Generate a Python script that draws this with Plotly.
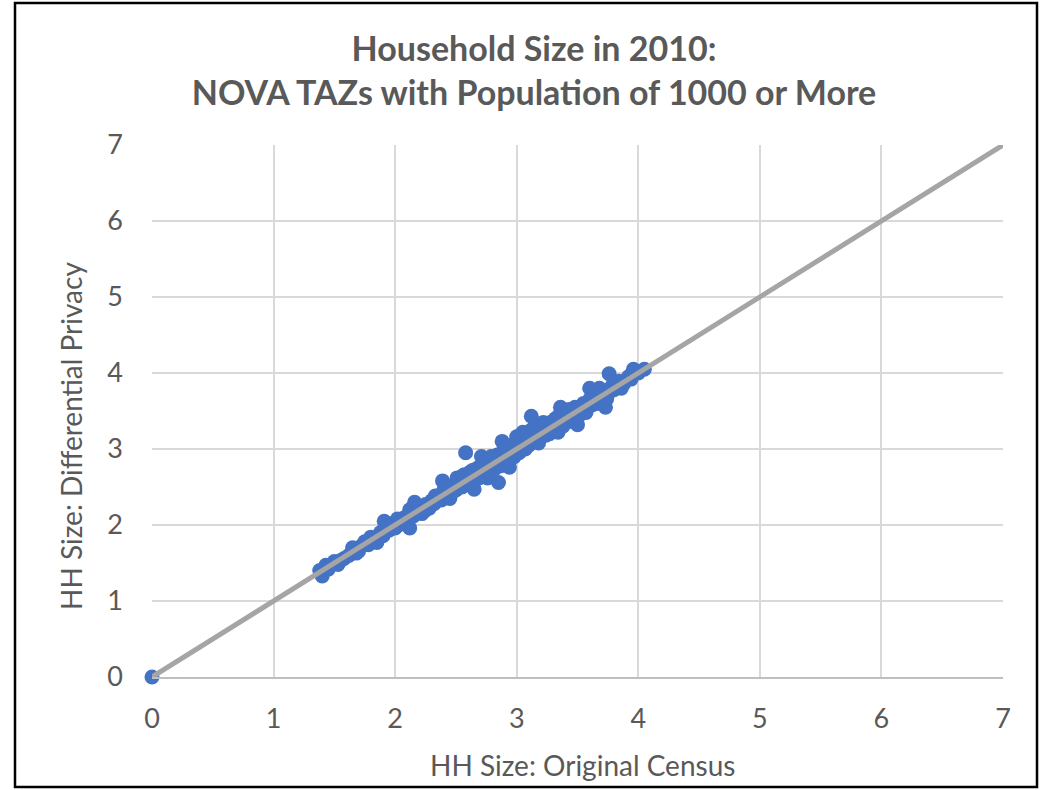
import plotly.graph_objects as go

census = [0.00, 1.38, 1.40, 1.45, 1.50, 1.53, 1.58, 1.62, 1.65, 1.68, 1.72, 1.75, 1.78, 1.82, 1.85,
          1.88, 1.90, 1.91, 1.95, 1.98, 2.00, 2.02, 2.05, 2.08, 2.10, 2.12, 2.12, 2.15, 2.16,
          2.18, 2.20, 2.22, 2.25, 2.28, 2.30, 2.32, 2.35, 2.38, 2.39, 2.40, 2.42, 2.44, 2.45,
          2.48, 2.50, 2.52, 2.53, 2.55, 2.56, 2.58, 2.58, 2.60, 2.62, 2.63, 2.65, 2.66, 2.68,
          2.70, 2.71, 2.72, 2.74, 2.75, 2.76, 2.78, 2.80, 2.82, 2.84, 2.85, 2.86, 2.88, 2.88,
          2.90, 2.92, 2.94, 2.95, 2.97, 2.98, 3.00, 3.00, 3.02, 3.04, 3.05, 3.06, 3.08, 3.10,
          3.12, 3.12, 3.14, 3.15, 3.17, 3.18, 3.20, 3.22, 3.24, 3.25, 3.27, 3.28, 3.30, 3.32,
          3.34, 3.36, 3.36, 3.38, 3.40, 3.42, 3.44, 3.46, 3.48, 3.50, 3.50, 3.52, 3.55, 3.56,
          3.58, 3.60, 3.60, 3.62, 3.65, 3.66, 3.68, 3.70, 3.72, 3.73, 3.75, 3.76, 3.78, 3.80,
          3.84, 3.88, 3.92, 3.96, 4.00, 4.05,
          1.43, 1.55, 1.70, 1.80, 1.93, 2.03, 2.14, 2.24, 2.33, 2.41, 2.47, 2.51, 2.57, 2.61,
          2.64, 2.69, 2.73, 2.77, 2.79, 2.83, 2.87, 2.91, 2.93, 2.96, 2.99, 3.03, 3.07, 3.09,
          3.11, 3.16, 3.19, 3.23, 3.26, 3.29, 3.31, 3.35, 3.39, 3.43, 3.47, 3.53, 3.57, 3.63,
          3.67, 3.71, 3.74, 3.82, 3.86, 3.94]
dp = [0.00, 1.40, 1.33, 1.42, 1.52, 1.48, 1.56, 1.60, 1.70, 1.63, 1.72, 1.78, 1.74, 1.82, 1.77,
      1.90, 1.86, 2.05, 1.93, 2.02, 1.96, 2.08, 2.03, 2.10, 2.05, 1.96, 2.20, 2.12, 2.30,
      2.17, 2.24, 2.15, 2.27, 2.22, 2.32, 2.28, 2.38, 2.33, 2.58, 2.45, 2.40, 2.50, 2.35,
      2.52, 2.46, 2.60, 2.55, 2.50, 2.65, 2.95, 2.58, 2.54, 2.70, 2.62, 2.47, 2.68, 2.75,
      2.64, 2.90, 2.80, 2.70, 2.85, 2.62, 2.78, 2.88, 2.74, 2.92, 2.56, 2.82, 3.10, 2.95,
      2.86, 3.00, 2.76, 2.92, 3.05, 2.90, 3.16, 3.00, 2.95, 3.10, 3.22, 3.02, 3.15, 3.05,
      3.43, 3.25, 3.10, 3.30, 3.18, 3.08, 3.22, 3.35, 3.18, 3.28, 3.20, 3.32, 3.26, 3.40,
      3.22, 3.55, 3.38, 3.30, 3.45, 3.36, 3.48, 3.40, 3.55, 3.32, 3.50, 3.45, 3.60, 3.50,
      3.55, 3.80, 3.65, 3.58, 3.70, 3.60, 3.80, 3.66, 3.75, 3.55, 3.72, 3.99, 3.82, 3.78,
      3.89, 3.86, 3.95, 4.05, 4.00, 4.05,
      1.47, 1.53, 1.66, 1.84, 1.98, 2.00, 2.21, 2.18, 2.38, 2.50, 2.43, 2.62, 2.66, 2.57,
      2.72, 2.62, 2.82, 2.70, 2.90, 2.80, 2.78, 3.02, 2.85, 3.05, 2.94, 3.18, 3.00, 3.20,
      3.14, 3.28, 3.14, 3.30, 3.22, 3.36, 3.24, 3.44, 3.34, 3.52, 3.42, 3.56, 3.48, 3.68,
      3.62, 3.76, 3.66, 3.85, 3.80, 3.92]

line_x = [0, 7]
line_y = [0, 7]
tick_vals = [0, 1, 2, 3, 4, 5, 6, 7]

title_lines = ["Household Size in 2010:", "NOVA TAZs with Population of 1000 or More"]
x_title = "HH Size: Original Census"
y_title = "HH Size: Differential Privacy"

FONT = "Lato"
TXT = "#595959"

fig = go.Figure()
fig.add_trace(go.Scatter(x=census, y=dp, mode="markers",
                         marker=dict(color="#4472C4", size=15, line=dict(width=0)),
                         showlegend=False, cliponaxis=False))
fig.add_trace(go.Scatter(x=line_x, y=line_y, mode="lines",
                         line=dict(color="#A5A5A5", width=5),
                         showlegend=False, cliponaxis=False))

W, H = 1040, 790
L, R, T, B = 152, 37, 145, 113
pw, ph = W - L - R, H - T - B

def px2paper_x(px):
    return (px - L) / pw

def py2paper_y(py):
    return (H - B - py) / ph

fig.update_layout(
    width=W, height=H,
    margin=dict(l=L, r=R, t=T, b=B, pad=0),
    paper_bgcolor="white", plot_bgcolor="white",
    font=dict(family=FONT, color=TXT),
    title=dict(text="<b>" + title_lines[0] + "<br>" + title_lines[1] + "</b>",
               x=534 / W, xanchor="center", xref="container",
               y=1 - 61 / H, yanchor="middle", yref="container",
               font=dict(family=FONT, size=34, color=TXT)),
    xaxis=dict(range=[0, 7], tickvals=tick_vals, showgrid=True, gridcolor="#D9D9D9", gridwidth=1.5,
               zeroline=False, showline=True, linecolor="#BFBFBF", linewidth=1.5,
               tickfont=dict(size=27, color=TXT, family=FONT), ticks="", ticklabelstandoff=17,
               fixedrange=True),
    yaxis=dict(range=[0, 7], tickvals=tick_vals, showgrid=True, gridcolor="#D9D9D9", gridwidth=1.5,
               zeroline=False, showline=False,
               tickfont=dict(size=27, color=TXT, family=FONT), ticks="", ticklabelstandoff=28,
               fixedrange=True),
    shapes=[dict(type="rect", xref="paper", yref="paper",
                 x0=px2paper_x(15), x1=px2paper_x(1037), y0=py2paper_y(787), y1=py2paper_y(3),
                 line=dict(color="black", width=2.5), fillcolor="rgba(0,0,0,0)", layer="above")],
    annotations=[
        dict(text=x_title, xref="paper", yref="paper", x=px2paper_x(582), y=py2paper_y(765),
             xanchor="center", yanchor="middle", showarrow=False,
             font=dict(size=28, color=TXT, family=FONT)),
        dict(text=y_title, xref="paper", yref="paper", x=px2paper_x(71), y=py2paper_y(436),
             xanchor="center", yanchor="middle", showarrow=False, textangle=-90,
             font=dict(size=28, color=TXT, family=FONT)),
    ],
)

fig.write_html("out.html", config={"displayModeBar": False},
               post_script="document.body.style.margin='0';document.body.style.overflow='hidden';")
